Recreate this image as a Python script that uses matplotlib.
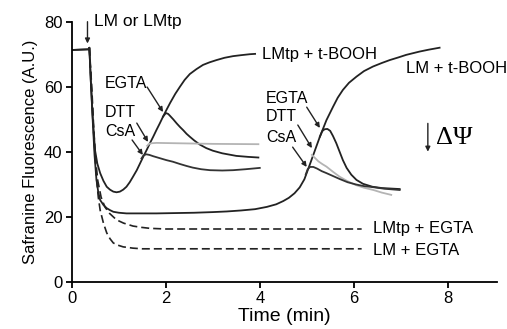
import matplotlib
matplotlib.use("Agg")
import matplotlib.pyplot as plt

plt.rcParams['font.family'] = ['Liberation Sans', 'DejaVu Sans']

# ---- data (time in min, fluorescence in A.U.) ----
lmtp_tbooh_t = [0, 0.35, 0.37, 0.40, 0.44, 0.49, 0.54, 0.60, 0.67, 0.74, 0.81, 0.88, 0.95, 1.02, 1.09, 1.16,
                1.23, 1.30, 1.38, 1.45, 1.52, 1.59, 1.66, 1.73, 1.80, 1.87, 1.94, 2.01, 2.09, 2.2, 2.3,
                2.4, 2.51, 2.65, 2.79, 2.93, 3.08, 3.25, 3.43, 3.6, 3.79, 3.9]
lmtp_tbooh_y = [71.3, 71.5, 72, 62, 51, 40.5, 36.3, 33.4, 31.0, 29.2, 28.3, 27.7, 27.5, 27.7, 28.3, 29.2,
                30.6, 32.3, 34.3, 36.4, 38.5, 40.5, 42.6, 44.6, 46.7, 48.7, 50.8, 52.8, 55.0, 57.8, 60.0,
                62.1, 63.9, 65.4, 66.7, 67.5, 68.2, 68.9, 69.4, 69.7, 70.0, 70.1]

lmtp_egta_b_t = [1.94, 2.0, 2.05, 2.09, 2.16, 2.23, 2.30, 2.37, 2.44, 2.51, 2.6, 2.72, 2.86, 3.0, 3.2, 3.5, 3.75, 3.97]
lmtp_egta_b_y = [50.8, 51.9, 51.6, 51.0, 49.9, 48.7, 47.6, 46.6, 45.5, 44.6, 43.5, 42.2, 41.1, 40.3, 39.5, 38.7, 38.4, 38.2]

lmtp_dtt_t = [1.60, 1.64, 1.70, 1.80, 2.2, 3.0, 3.97]
lmtp_dtt_y = [41.8, 42.4, 42.6, 42.7, 42.6, 42.4, 42.3]

lmtp_csa_t = [1.48, 1.52, 1.58, 1.65, 1.73, 1.87, 2.01, 2.15, 2.30, 2.44, 2.57, 2.75, 2.94, 3.2, 3.43, 3.70, 4.0]
lmtp_csa_y = [37.9, 38.8, 39.2, 39.0, 38.6, 38.0, 37.4, 36.9, 36.2, 35.6, 35.1, 34.6, 34.3, 34.2, 34.3, 34.6, 35.0]

lm_tbooh_t = [0, 0.35, 0.37, 0.40, 0.44, 0.48, 0.52, 0.56, 0.60, 0.67, 0.74, 0.81, 0.88, 1.0, 1.16, 1.4, 1.8,
              2.2, 2.6, 3.0, 3.3, 3.6, 3.9, 4.15, 4.35, 4.5, 4.62, 4.74, 4.85, 4.95, 5.06, 5.17, 5.28,
              5.42, 5.56, 5.66, 5.77, 5.9, 6.06, 6.22, 6.41, 6.6, 6.77, 6.95, 7.12, 7.4, 7.6, 7.83]
lm_tbooh_y = [71.3, 71.5, 72, 62, 50, 39, 31.5, 27.5, 25.1, 23.6, 22.6, 22.0, 21.5, 21.2, 21.0, 21.0, 21.0,
              21.1, 21.2, 21.4, 21.6, 21.9, 22.3, 23.0, 23.8, 24.8, 25.8, 27.2, 29.0, 31.5, 35.8, 40.2, 44.6,
              49.7, 53.8, 56.6, 59.0, 61.2, 63.1, 64.8, 66.2, 67.3, 68.2, 69.0, 69.8, 70.8, 71.4, 72.0]

lm_egta_b_t = [5.28, 5.33, 5.38, 5.44, 5.5, 5.56, 5.63, 5.70, 5.77, 5.85, 5.95, 6.06, 6.2, 6.40, 6.6, 6.98]
lm_egta_b_y = [44.6, 46.3, 46.9, 47.0, 46.4, 44.8, 42.6, 40.0, 37.4, 35.0, 32.9, 31.3, 30.1, 29.2, 28.8, 28.5]

lm_dtt_t = [5.11, 5.18, 5.25, 5.33, 5.42, 5.56, 5.70, 5.87, 6.05, 6.22, 6.42, 6.6, 6.80]
lm_dtt_y = [39.0, 38.0, 37.0, 36.2, 35.4, 33.8, 32.3, 30.9, 29.7, 28.9, 28.2, 27.4, 26.7]

lm_csa_t = [4.98, 5.02, 5.07, 5.14, 5.22, 5.32, 5.42, 5.56, 5.70, 5.87, 6.05, 6.22, 6.40, 6.65, 6.98]
lm_csa_y = [33.0, 34.6, 35.3, 35.3, 34.8, 34.0, 33.4, 32.5, 31.6, 30.6, 29.9, 29.4, 29.1, 28.6, 28.2]

lmtp_egta_t = [0.37, 0.42, 0.46, 0.50, 0.55, 0.62, 0.70, 0.80, 0.95, 1.10, 1.30, 1.48, 1.66, 2.0, 6.17]
lmtp_egta_y = [72, 60, 48, 38, 31, 26, 23, 21, 19, 18.0, 17.1, 16.7, 16.4, 16.2, 16.2]

lm_egta_t = [0.37, 0.42, 0.46, 0.52, 0.56, 0.60, 0.67, 0.74, 0.81, 0.88, 0.98, 1.09, 1.3, 1.5, 6.17]
lm_egta_y = [72, 58, 46, 32.3, 26, 22, 18, 15, 13.2, 11.9, 11.2, 10.7, 10.3, 10.1, 10.1]

x_ticks = [0, 2, 4, 6, 8]
y_ticks = [0, 20, 40, 60, 80]

# ---- figure ----
fig = plt.figure(figsize=(5.07, 3.29), dpi=100)
ax = fig.add_axes([0.142, 0.144, 0.838, 0.790])

black = '#222222'
gray = '#b4b4b4'
lw = 1.3

ax.plot(lm_tbooh_t, lm_tbooh_y, color=black, lw=lw)
ax.plot(lmtp_tbooh_t, lmtp_tbooh_y, color=black, lw=lw)
ax.plot(lmtp_egta_b_t, lmtp_egta_b_y, color=black, lw=lw)
ax.plot(lmtp_dtt_t, lmtp_dtt_y, color=gray, lw=lw)
ax.plot(lmtp_csa_t, lmtp_csa_y, color='#333333', lw=lw)
ax.plot(lm_egta_b_t, lm_egta_b_y, color=black, lw=lw)
ax.plot(lm_dtt_t, lm_dtt_y, color=gray, lw=lw)
ax.plot(lm_csa_t, lm_csa_y, color='#333333', lw=lw)
ax.plot(lmtp_egta_t, lmtp_egta_y, color=black, lw=1.2, dashes=(4.8, 2.4))
ax.plot(lm_egta_t, lm_egta_y, color=black, lw=1.2, dashes=(4.8, 2.4))

ax.set_xlim(0, 9.05)
ax.set_ylim(0, 80)
ax.set_xticks(x_ticks)
ax.set_yticks(y_ticks)
for s in ['top', 'right']:
    ax.spines[s].set_visible(False)
for s in ['left', 'bottom']:
    ax.spines[s].set_linewidth(1.3)
ax.tick_params(direction='out', length=4.5, width=1.3, labelsize=12, pad=2.5)
ax.set_xlabel('Time (min)', fontsize=14, labelpad=1)
ax.set_ylabel('Safranine Fluorescence (A.U.)', fontsize=12, labelpad=4)

fs = 12
arrowp = dict(arrowstyle='-|>', color=black, lw=1.0, mutation_scale=7, shrinkA=0, shrinkB=0)

ax.annotate('', xy=(0.33, 73.3), xytext=(0.33, 80), arrowprops=arrowp, annotation_clip=False)
ax.text(0.47, 80, 'LM or LMtp', fontsize=12.5, va='center', ha='left', clip_on=False)

ax.text(4.04, 69.8, 'LMtp + t-BOOH', fontsize=fs, va='center', ha='left')
ax.text(7.12, 65.6, 'LM + t-BOOH', fontsize=fs, va='center', ha='left')
ax.text(6.41, 16.4, 'LMtp + EGTA', fontsize=fs, va='center', ha='left')
ax.text(6.41, 9.5, 'LM + EGTA', fontsize=fs, va='center', ha='left')

# first set
ax.text(0.70, 61.1, 'EGTA', fontsize=11.5, va='center', ha='left')
ax.text(0.70, 52.2, 'DTT', fontsize=11.5, va='center', ha='left')
ax.text(0.70, 46.2, 'CsA', fontsize=11.5, va='center', ha='left')
ax.annotate('', xy=(1.94, 52.2), xytext=(1.6, 59.9), arrowprops=arrowp)
ax.annotate('', xy=(1.62, 43.0), xytext=(1.38, 48.8), arrowprops=arrowp)
ax.annotate('', xy=(1.51, 39.0), xytext=(1.28, 43.6), arrowprops=arrowp)

# second set
ax.text(4.13, 56.5, 'EGTA', fontsize=11.5, va='center', ha='left')
ax.text(4.13, 50.7, 'DTT', fontsize=11.5, va='center', ha='left')
ax.text(4.13, 44.5, 'CsA', fontsize=11.5, va='center', ha='left')
ax.annotate('', xy=(5.28, 47.3), xytext=(5.0, 53.7), arrowprops=arrowp)
ax.annotate('', xy=(5.11, 41.1), xytext=(4.81, 48.2), arrowprops=arrowp)
ax.annotate('', xy=(5.0, 35.3), xytext=(4.7, 41.4), arrowprops=arrowp)

# Delta Psi
ax.annotate('', xy=(7.58, 40.0), xytext=(7.58, 48.7), arrowprops=arrowp)
ax.text(7.76, 44.1, 'ΔΨ', fontsize=19, va='center', ha='left',
        family=['Liberation Serif', 'DejaVu Serif'])

fig.savefig('out.png', dpi=100)
